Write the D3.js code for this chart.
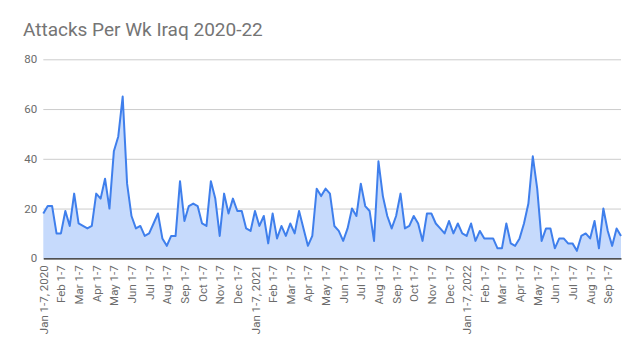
<!DOCTYPE html>
<html><head><meta charset="utf-8">
<script src="https://cdn.jsdelivr.net/npm/d3@7"></script>
<style>
html,body{margin:0;padding:0;background:#fff;}
svg{display:block;font-family:Roboto, "Noto Sans", sans-serif;}
</style></head>
<body>
<svg id="chart" width="639" height="352"></svg>
<script>
// ---- data ----
const title = "Attacks Per Wk Iraq 2020-22";
const years = [2020, 2021, 2022];
const monthNames = ["Jan","Feb","Mar","Apr","May","Jun","Jul","Aug","Sep","Oct","Nov","Dec"];
const weekBins = ["1-7","8-14","15-21","22-end"];
const attacks = [
  18,21,21,10, 10,19,13,26, 14,13,12,13, 26,24,32,20, 43,49,65,30, 17,12,13,9,
  10,14,18,8, 5,9,9,31, 15,21,22,21, 14,13,31,24, 9,26,18,24, 19,19,12,11,
  19,13,17,6, 18,8,13,9, 14,10,19,12, 5,9,28,25, 28,26,13,11, 7,12,20,17,
  30,21,19,7, 39,25,17,12, 17,26,12,13, 17,14,7,18, 18,14,12,10, 15,10,14,10,
  9,14,7,11, 8,8,8,4, 4,14,6,5, 8,14,22,41, 28,7,12,12, 4,8,8,6,
  6,3,9,10, 8,15,4,20, 11,5,12,9
];
const yTicks = [0, 20, 40, 60, 80];
const tickLabels = [
  "Jan 1-7, 2020","Feb 1-7","Mar 1-7","Apr 1-7","May 1-7","Jun 1-7","Jul 1-7","Aug 1-7","Sep 1-7","Oct 1-7","Nov 1-7","Dec 1-7",
  "Jan 1-7, 2021","Feb 1-7","Mar 1-7","Apr 1-7","May 1-7","Jun 1-7","Jul 1-7","Aug 1-7","Sep 1-7","Oct 1-7","Nov 1-7","Dec 1-7",
  "Jan 1-7, 2022","Feb 1-7","Mar 1-7","Apr 1-7","May 1-7","Jun 1-7","Jul 1-7","Aug 1-7","Sep 1-7"
];

// category keys (one per weekly bin)
const categories = [];
years.forEach(yr => monthNames.forEach(m => weekBins.forEach(w => categories.push(`${m} ${w} ${yr}`))));
const cats = categories.slice(0, attacks.length);
const data = cats.map((c, i) => ({cat: c, v: attacks[i]}));
const tickCats = cats.filter((c, i) => i % 4 === 0);
const tickLabelOf = new Map(tickCats.map((c, i) => [c, tickLabels[i]]));

const svg = d3.select("#chart");
const x = d3.scalePoint().domain(cats).range([43.3, 621]);
const y = d3.scaleLinear().domain([0, 80]).range([258.3, 59.3]);

// title
svg.append("text").attr("x", 23).attr("y", 36)
  .attr("font-size", 19).attr("fill", "#757575").text(title);

// gridlines + y labels
const gy = svg.append("g").attr("transform", "translate(43.3,0)")
  .call(d3.axisLeft(y).tickValues(yTicks).tickSize(-(621 - 43.3)).tickPadding(6));
gy.select(".domain").remove();
gy.selectAll(".tick line").attr("stroke", "#cccccc").attr("stroke-width", 1);
gy.selectAll(".tick text").attr("fill", "#6b6b6b").attr("font-size", 11.5)
  .attr("font-family", "Roboto, sans-serif");

// area + line
const area = d3.area().x(d => x(d.cat)).y0(y(0)).y1(d => y(d.v));
const line = d3.line().x(d => x(d.cat)).y(d => y(d.v));
svg.append("path").datum(data).attr("d", area).attr("fill", "#c6dafc");
svg.append("path").datum(data).attr("d", line).attr("fill", "none")
  .attr("stroke", "#3f7fec").attr("stroke-width", 2).attr("stroke-linejoin", "round");

// x axis
const gx = svg.append("g").attr("transform", `translate(0,${y(0)})`)
  .call(d3.axisBottom(x).tickValues(tickCats).tickFormat(c => tickLabelOf.get(c)).tickSize(0).tickSizeOuter(0));
gx.select(".domain").attr("stroke", "#222").attr("stroke-width", 1.3);
gx.selectAll(".tick text")
  .attr("transform", "rotate(-90)")
  .attr("x", -7).attr("y", 0).attr("dy", "0.35em")
  .style("text-anchor", "end")
  .attr("fill", "#6b6b6b").attr("font-size", 11.5).attr("font-family", "Roboto, sans-serif");
</script>
</body></html>
